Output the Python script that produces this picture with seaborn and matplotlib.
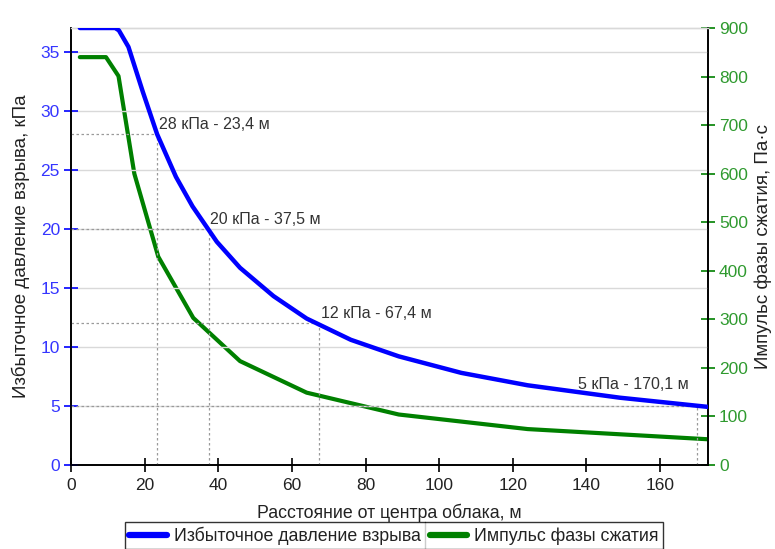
import matplotlib
matplotlib.use("Agg")
import matplotlib.pyplot as plt
import seaborn as sns
import pandas as pd
from matplotlib.lines import Line2D

# ---- data ----
dist_p = [2.4, 12.0, 13.0, 15.6, 19.5, 23.4, 28.5, 33.0, 39.6, 45.9, 55.0, 64.0, 76.0, 89.0, 106.0, 124.0, 149.0, 173.0]
pressure = [37.0, 37.0, 36.8, 35.4, 31.6, 28.0, 24.4, 21.9, 18.9, 16.7, 14.3, 12.4, 10.6, 9.2, 7.8, 6.75, 5.7, 4.92]

dist_i = [2.4, 9.5, 12.9, 17.2, 23.7, 33.2, 45.9, 64.0, 89.0, 124.0, 173.0]
impulse = [840, 840, 801, 600, 429, 303, 214, 149, 104, 74, 53]

mark_kpa = [28, 20, 12, 5]
mark_dist = [23.4, 37.5, 67.4, 170.1]
mark_labels = ["28 кПа - 23,4 м", "20 кПа - 37,5 м", "12 кПа - 67,4 м", "5 кПа - 170,1 м"]

x_ticks = [0, 20, 40, 60, 80, 100, 120, 140, 160]
y_ticks = [0, 5, 10, 15, 20, 25, 30, 35]
y2_ticks = [0, 100, 200, 300, 400, 500, 600, 700, 800, 900]

label_x = "Расстояние от центра облака, м"
label_y = "Избыточное давление взрыва, кПа"
label_y2 = "Импульс фазы сжатия, Па·с"
series_names = ["Избыточное давление взрыва", "Импульс фазы сжатия"]

BLUE = "#0000ff"
GREEN = "#008000"
BLUE_T = "#3535ff"
GREEN_T = "#2f9a2f"

sns.set_theme(style="white")
plt.rcParams["font.family"] = ["Liberation Sans", "DejaVu Sans"]

fig = plt.figure(figsize=(7.75, 5.49), dpi=100)
ax = fig.add_axes([71 / 775, 1 - 465 / 549, (708 - 71) / 775, (465 - 28) / 549])
ax2 = ax.twinx()

df_p = pd.DataFrame({"x": dist_p, "y": pressure})
df_i = pd.DataFrame({"x": dist_i, "y": impulse})

# grid lines (horizontal only)
for yv in y_ticks[1:]:
    ax.axhline(yv, color="#d9d9d9", lw=1.0, zorder=0)

# annotation guide lines
for kpa, d in zip(mark_kpa, mark_dist):
    ax.plot([0, d], [kpa, kpa], color="#9a9a9a", lw=0.9, ls=(0, (2, 2)), zorder=1)
    ax.plot([d, d], [0, kpa], color="#9a9a9a", lw=0.9, ls=(0, (2, 2)), zorder=1)

sns.lineplot(data=df_p, x="x", y="y", ax=ax, color=BLUE, lw=3.2, zorder=5, legend=False)
sns.lineplot(data=df_i, x="x", y="y", ax=ax2, color=GREEN, lw=3.0, zorder=4, legend=False)

# put blue axis above green
ax.set_zorder(ax2.get_zorder() + 1)
ax.patch.set_visible(False)

for i, (kpa, d, t) in enumerate(zip(mark_kpa, mark_dist, mark_labels)):
    if i == len(mark_kpa) - 1:
        ax.annotate(t, (d, kpa), xytext=(-6, 10), textcoords="offset points",
                    ha="right", va="bottom", fontsize=11.5, color="#333333", zorder=6)
    else:
        ax.annotate(t, (d, kpa), xytext=(1, 1.5), textcoords="offset points",
                    ha="left", va="bottom", fontsize=11.5, color="#333333", zorder=6)

ax.set_xlim(0, 173)
ax.set_ylim(0, 37)
ax2.set_ylim(0, 900)
ax.set_xticks(x_ticks)
ax.set_yticks(y_ticks)
ax2.set_yticks(y2_ticks)

for a in (ax, ax2):
    for s in a.spines.values():
        s.set_color("black")
        s.set_linewidth(1.2)
    a.spines["top"].set_color("#d9d9d9")
    a.spines["top"].set_linewidth(1.0)

ax.tick_params(axis="x", direction="inout", length=10, width=1.2, colors="black",
               labelcolor="#222222", labelsize=12.5, bottom=True, pad=4)
ax.tick_params(axis="y", direction="inout", length=10, width=1.2, colors=BLUE,
               labelcolor=BLUE_T, labelsize=12.5, left=True, pad=3)
ax2.tick_params(axis="y", direction="inout", length=10, width=1.2, colors=GREEN,
                labelcolor=GREEN_T, labelsize=12.5, right=True, pad=3)

ax.set_xlabel(label_x, fontsize=12.8, color="#222222", labelpad=8)
ax.set_ylabel(label_y, fontsize=13.5, color="#222222")
ax2.set_ylabel(label_y2, fontsize=13.5, color="#222222")
ax.yaxis.set_label_coords(-0.064, 0.5)
ax2.yaxis.set_label_coords(1.073, 0.5)

handles = [Line2D([], [], color=BLUE, lw=4.5), Line2D([], [], color=GREEN, lw=4.5)]
leg = fig.legend(handles, series_names, loc="upper center",
                 bbox_to_anchor=(394 / 775, 1 - 522 / 549), ncol=2,
                 frameon=True, fancybox=False, edgecolor="black", fontsize=12.8,
                 handlelength=2.1, handletextpad=0.4, columnspacing=0.5,
                 borderpad=0.25, borderaxespad=0)
leg.get_frame().set_linewidth(1.0)
for t in leg.get_texts():
    t.set_color("#222222")

# vertical separator between legend entries
fig.canvas.draw()
r = fig.canvas.get_renderer()
lb = leg.get_window_extent(r)
t0 = leg.get_texts()[0].get_window_extent(r)
h1 = leg.legend_handles[1].get_window_extent(r)
xsep = (t0.x1 + h1.x0) / 2
fig.add_artist(Line2D([xsep / fig.bbox.width] * 2,
                      [lb.y0 / fig.bbox.height, lb.y1 / fig.bbox.height],
                      color="black", lw=1.0, transform=fig.transFigure))

fig.savefig("out.png", dpi=100)
